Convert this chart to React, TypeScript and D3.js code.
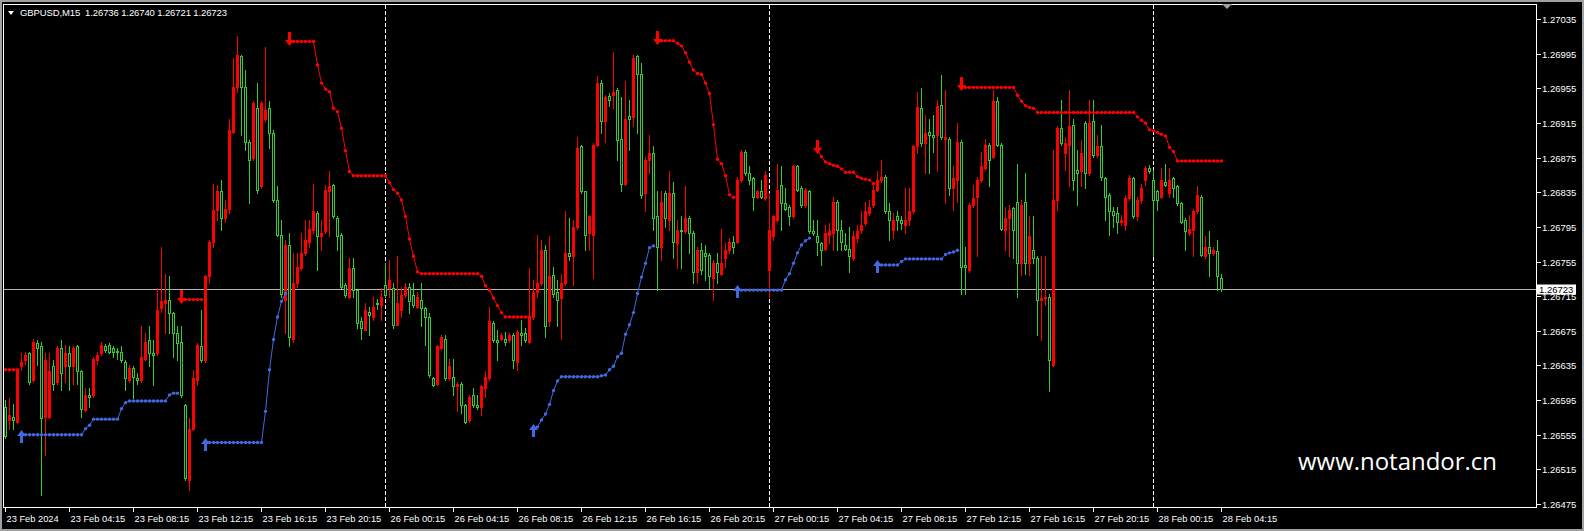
import React from "react";
import * as d3 from "d3";

// ---------- DATA (prices in 1/100000 units, e.g. 26723 = 1.26723) ----------
const openPts = [26587,26572,26576,26570,26634,26641,26649,26618,26661,26657,26576,26576,26634,26616,26655,26634,26649,26634,26657,26628,26584,26601,26601,26641,26649,26657,26659,26655,26652,26651,26639,26618,26632,26621,26618,26643,26664,26649,26649,26701,26707,26711,26695,26672,26662,26589,26503,26562,26618,26657,26641,26738,26778,26815,26836,26805,26816,26905,26957,26992,26957,26893,26874,26932,26842,26919,26932,26903,26826,26786,26711,26774,26666,26730,26747,26765,26778,26791,26811,26784,26790,26836,26843,26805,26786,26728,26714,26747,26722,26686,26676,26697,26691,26707,26705,26728,26724,26724,26682,26699,26716,26726,26716,26703,26711,26701,26691,26620,26614,26655,26666,26620,26622,26611,26614,26589,26572,26601,26589,26587,26609,26620,26684,26664,26666,26666,26664,26670,26639,26672,26672,26662,26691,26720,26730,26768,26686,26739,26720,26713,26730,26765,26761,26795,26888,26836,26788,26786,26890,26961,26917,26946,26947,26953,26897,26845,26923,26922,26992,26972,26834,26872,26880,26807,26772,26834,26803,26834,26776,26791,26790,26805,26788,26743,26768,26765,26763,26736,26753,26741,26759,26768,26778,26778,26849,26882,26857,26851,26830,26836,26828,26745,26784,26803,26843,26822,26818,26807,26865,26840,26820,26836,26790,26784,26776,26770,26786,26788,26824,26791,26774,26770,26759,26782,26791,26799,26811,26820,26838,26849,26853,26813,26791,26807,26803,26797,26803,26813,26888,26932,26892,26905,26901,26901,26936,26897,26897,26840,26849,26893,26751,26745,26820,26830,26849,26863,26890,26876,26940,26890,26791,26805,26817,26824,26753,26824,26753,26768,26759,26711,26713,26714,26636,26826,26909,26880,26890,26913,26861,26859,26915,26857,26917,26878,26888,26851,26832,26813,26811,26801,26797,26828,26851,26807,26826,26849,26863,26849,26836,26830,26847,26834,26851,26842,26822,26803,26788,26791,26813,26830,26761,26772,26765,26767,26736];
const highPts = [26595,26597,26591,26632,26649,26651,26651,26666,26664,26662,26649,26649,26641,26657,26664,26659,26657,26657,26659,26630,26609,26609,26645,26651,26662,26660,26661,26657,26655,26657,26641,26636,26634,26626,26680,26672,26680,26664,26724,26772,26741,26738,26697,26680,26680,26591,26574,26630,26661,26699,26739,26780,26845,26843,26849,26826,26919,26990,27015,26994,26976,26895,26940,26961,26940,27003,26940,26907,26842,26803,26780,26788,26765,26765,26788,26803,26803,26845,26813,26803,26843,26859,26845,26807,26788,26730,26759,26759,26722,26691,26707,26703,26714,26712,26724,26753,26757,26730,26761,26726,26730,26730,26730,26720,26730,26703,26695,26622,26659,26670,26670,26643,26643,26616,26616,26591,26601,26609,26601,26612,26628,26703,26686,26676,26672,26674,26672,26672,26676,26688,26678,26747,26734,26786,26780,26774,26784,26749,26734,26741,26813,26805,26803,26899,26890,26836,26809,26892,26969,26965,26947,26950,26997,26955,26945,26963,26942,26994,26994,26984,26876,26901,26888,26836,26836,26836,26859,26847,26803,26807,26842,26807,26790,26772,26776,26774,26765,26757,26765,26793,26776,26782,26784,26853,26884,26884,26865,26853,26838,26849,26859,26834,26809,26868,26865,26840,26820,26867,26867,26842,26840,26838,26803,26803,26778,26797,26799,26830,26826,26803,26788,26795,26790,26797,26813,26824,26826,26845,26859,26872,26855,26822,26811,26813,26807,26840,26840,26890,26951,26955,26924,26919,26924,26942,26970,26953,26899,26865,26915,26895,26772,26822,26843,26853,26882,26897,26892,26953,26945,26892,26818,26820,26818,26868,26826,26857,26807,26807,26761,26761,26761,26718,26884,26911,26942,26899,26953,26919,26884,26895,26917,26942,26942,26901,26913,26853,26834,26818,26818,26809,26832,26855,26853,26830,26845,26865,26867,26861,26838,26863,26868,26863,26853,26843,26824,26805,26809,26816,26842,26832,26784,26790,26772,26780,26740];
const lowPts = [26551,26562,26562,26568,26630,26637,26614,26616,26636,26485,26532,26574,26607,26614,26607,26616,26607,26614,26614,26576,26582,26587,26599,26637,26647,26651,26649,26645,26643,26639,26607,26616,26597,26614,26616,26641,26634,26612,26647,26697,26672,26672,26645,26641,26599,26503,26491,26560,26612,26639,26639,26730,26772,26803,26791,26801,26811,26903,26951,26901,26884,26822,26872,26834,26840,26917,26886,26824,26784,26714,26672,26657,26662,26726,26745,26763,26772,26788,26745,26768,26788,26784,26805,26768,26724,26714,26713,26714,26678,26666,26676,26670,26688,26700,26688,26714,26714,26678,26682,26691,26714,26695,26703,26701,26680,26659,26622,26611,26612,26653,26618,26618,26601,26582,26580,26568,26570,26587,26585,26578,26599,26618,26662,26641,26664,26659,26662,26632,26630,26659,26662,26661,26689,26714,26728,26668,26680,26714,26680,26666,26728,26757,26728,26793,26834,26768,26768,26736,26888,26903,26893,26935,26932,26872,26836,26843,26884,26911,26903,26828,26813,26857,26791,26722,26757,26795,26791,26759,26747,26747,26788,26765,26730,26730,26741,26734,26724,26711,26730,26739,26749,26765,26765,26776,26847,26855,26845,26815,26828,26828,26826,26714,26780,26801,26791,26815,26797,26805,26836,26818,26818,26788,26786,26763,26751,26768,26776,26768,26768,26768,26768,26743,26757,26778,26788,26797,26809,26818,26836,26847,26811,26780,26782,26791,26793,26788,26797,26811,26880,26888,26857,26857,26882,26859,26897,26822,26832,26815,26824,26718,26718,26743,26818,26761,26847,26861,26842,26874,26888,26791,26768,26761,26759,26714,26739,26741,26739,26753,26670,26664,26705,26605,26634,26815,26890,26861,26842,26838,26820,26842,26840,26855,26876,26876,26849,26803,26786,26795,26788,26797,26791,26826,26805,26803,26822,26843,26857,26761,26815,26828,26842,26830,26830,26820,26799,26768,26786,26761,26811,26761,26759,26738,26763,26722,26721];
const closePts = [26553,26578,26572,26628,26639,26647,26616,26662,26655,26574,26641,26628,26614,26655,26626,26649,26634,26655,26628,26585,26601,26599,26643,26647,26659,26653,26651,26651,26650,26641,26620,26632,26622,26618,26645,26662,26649,26647,26699,26709,26711,26695,26672,26661,26601,26505,26562,26620,26659,26641,26738,26778,26815,26836,26805,26816,26907,26957,26994,26957,26893,26872,26938,26838,26938,26930,26903,26826,26786,26718,26774,26668,26730,26749,26765,26780,26793,26813,26784,26788,26838,26842,26807,26784,26726,26716,26747,26722,26684,26678,26699,26693,26703,26706,26714,26716,26734,26682,26707,26716,26726,26709,26705,26714,26701,26691,26624,26612,26657,26668,26620,26634,26611,26613,26589,26570,26599,26589,26587,26611,26622,26686,26664,26662,26670,26662,26670,26641,26674,26670,26664,26691,26720,26730,26768,26680,26738,26718,26711,26730,26765,26761,26795,26886,26836,26786,26807,26890,26961,26917,26945,26942,26951,26895,26845,26920,26920,26990,26972,26832,26872,26880,26805,26772,26824,26805,26834,26778,26791,26790,26805,26788,26743,26768,26745,26761,26738,26753,26743,26753,26768,26778,26772,26849,26882,26857,26849,26830,26836,26830,26855,26791,26807,26838,26822,26816,26807,26865,26838,26820,26838,26790,26788,26778,26768,26788,26790,26824,26791,26778,26770,26761,26784,26790,26797,26813,26818,26838,26849,26853,26813,26803,26803,26803,26799,26803,26813,26888,26933,26892,26903,26901,26899,26934,26899,26899,26840,26851,26893,26749,26749,26820,26828,26849,26865,26890,26872,26940,26890,26793,26805,26815,26791,26753,26820,26753,26784,26759,26711,26713,26714,26641,26826,26909,26892,26892,26911,26849,26857,26880,26857,26915,26878,26888,26853,26830,26813,26809,26801,26803,26828,26851,26807,26826,26840,26863,26859,26826,26826,26849,26843,26849,26840,26822,26801,26790,26793,26813,26832,26763,26772,26765,26768,26738,26723];

// Trailing-stop indicator segments (start bar index + values)
const redStopStarts = [0, 44, 71, 163, 203, 239];
const redStopValues = [
  [26630,26630,26630,26630],
  [26711,26711,26711,26711,26711,26711],
  [27009,27009,27009,27009,27009,27009,27009,26982,26961,26954,26951,26932,26928,26909,26883,26859,26854,26854,26854,26854,26854,26854,26854,26854,26854,26846,26838,26834,26826,26807,26781,26761,26743,26741,26741,26741,26741,26741,26741,26741,26741,26741,26741,26741,26741,26741,26741,26741,26738,26727,26722,26713,26704,26696,26691,26691,26691,26691,26691,26691,26691],
  [27010,27010,27010,27010,27010,27007,27004,26996,26985,26976,26972,26971,26961,26949,26913,26873,26868,26854,26832,26829],
  [26884,26876,26870,26868,26866,26865,26862,26858,26858,26858,26853,26851,26850,26849,26845],
  [26956,26956,26956,26956,26956,26956,26956,26956,26956,26956,26956,26956,26956,26956,26947,26940,26935,26933,26932,26927,26927,26927,26927,26927,26927,26927,26927,26927,26927,26927,26927,26927,26927,26927,26927,26927,26927,26927,26927,26927,26927,26927,26927,26927,26922,26918,26915,26907,26906,26904,26902,26900,26887,26882,26871,26871,26871,26871,26871,26871,26871,26871,26871,26871,26871,26871],
];
const redArrowSegments = [1, 2, 3, 4, 5];
const blueStopStarts = [4, 50, 132, 183, 218];
const blueStopValues = [
  [26555,26555,26555,26555,26555,26555,26555,26555,26555,26555,26555,26555,26555,26555,26555,26555,26562,26566,26573,26573,26573,26573,26573,26573,26573,26585,26592,26594,26594,26594,26594,26594,26594,26594,26594,26594,26594,26601,26603,26603],
  [26546,26546,26546,26546,26546,26546,26546,26546,26546,26546,26546,26546,26546,26546,26546,26582,26630,26665,26691,26709,26718],
  [26562,26564,26572,26579,26590,26606,26617,26622,26622,26622,26622,26622,26622,26622,26622,26622,26622,26623,26624,26630,26634,26645,26649,26671,26682,26696,26718,26737,26753,26771,26773],
  [26722,26722,26722,26722,26722,26722,26722,26722,26722,26722,26722,26722,26734,26741,26753,26765,26774,26779,26782],
  [26751,26751,26751,26751,26751,26751,26755,26758,26758,26758,26758,26758,26758,26758,26758,26758,26758,26763,26765,26766,26768],
];

const priceTicks = [1.26475,1.26515,1.26555,1.26595,1.26635,1.26675,1.26715,1.26755,1.26795,1.26835,1.26875,1.26915,1.26955,1.26995,1.27035];
const timeLabelBars = [0,16,32,48,64,80,96,112,128,144,160,176,192,208,224,240,256,272,288,304];
const timeLabels = ["23 Feb 2024","23 Feb 04:15","23 Feb 08:15","23 Feb 12:15","23 Feb 16:15","23 Feb 20:15","26 Feb 00:15","26 Feb 04:15","26 Feb 08:15","26 Feb 12:15","26 Feb 16:15","26 Feb 20:15","27 Feb 00:15","27 Feb 04:15","27 Feb 08:15","27 Feb 12:15","27 Feb 16:15","27 Feb 20:15","28 Feb 00:15","28 Feb 04:15"];
const daySeparatorBars = [95, 191, 287];
const symbolTitle = "GBPUSD,M15  1.26736 1.26740 1.26721 1.26723";
const lastPrice = 1.26723;
const watermark = "www.notandor.cn";

// ---------- RENDER ----------
const W = 1584, H = 531;
const P = (v: number) => 1 + v / 100000;
const RED = "#ff0000";
const GREEN = "#32cd32";
const BLUE = "#4169e1";
const FONT = "'Liberation Sans', Arial, sans-serif";

export default function App() {
  const n = closePts.length;
  const x = d3.scaleLinear().domain([0, n - 1]).range([5, 5 + 4 * (n - 1)]);
  const y = d3.scaleLinear().domain([1.26475, 1.27035]).range([504, 19]);
  const py = (v: number) => Math.round(y(P(v)));

  const candles = d3.range(n).map((i) => {
    const o = openPts[i], c = closePts[i], h = highPts[i], l = lowPts[i];
    const cx = Math.round(x(i));
    const bull = c >= o;
    const top = py(Math.max(o, c));
    const bot = py(Math.min(o, c));
    const col = bull ? RED : GREEN;
    return (
      <g key={i}>
        <line x1={cx + 0.5} x2={cx + 0.5} y1={py(h)} y2={py(l) + 1} stroke={col} strokeWidth={1} />
        {bull ? (
          <rect x={cx - 1} y={top} width={3} height={Math.max(1, bot - top + 1)} fill={RED} />
        ) : (
          <rect x={cx - 0.5} y={top + 0.5} width={2} height={Math.max(1, bot - top)} fill="#000" stroke={GREEN} strokeWidth={1} />
        )}
      </g>
    );
  });

  const lineGen = d3.line<[number, number]>().x((d) => d[0]).y((d) => d[1]);

  const renderStops = (starts: number[], values: number[][], color: string, prefix: string) =>
    starts.map((s, k) => {
      const pts: [number, number][] = values[k].map((v, j) => [Math.round(x(s + j)) + 0.5, y(P(v))]);
      return (
        <g key={prefix + k}>
          <path d={lineGen(pts) || ""} fill="none" stroke={color} strokeWidth={1} />
          {pts.map((p, j) => (
            <circle key={j} cx={p[0]} cy={p[1]} r={1.7} fill={color} />
          ))}
        </g>
      );
    });

  const downArrow = (ax: number, ay: number) =>
    `M${ax - 1},${ay - 10} L${ax + 2},${ay - 10} L${ax + 2},${ay - 2} L${ax + 5},${ay - 2} L${ax + 0.5},${ay + 4} L${ax - 4},${ay - 2} L${ax - 1},${ay - 2} Z`;
  const upArrow = (ax: number, ay: number) =>
    `M${ax - 1},${ay + 8} L${ax + 2},${ay + 8} L${ax + 2},${ay + 1} L${ax + 5},${ay + 1} L${ax + 0.5},${ay - 5} L${ax - 4},${ay + 1} L${ax - 1},${ay + 1} Z`;

  const lastY = Math.round(y(lastPrice)) + 0.5;

  return (
    <>
      <style>{"body{margin:0;background:#000}"}</style>
      <svg width={W} height={H} style={{ display: "block", background: "#000" }}>
        <rect x={0} y={0} width={W} height={H} fill="#000" />
        {/* day separators */}
        {daySeparatorBars.map((b) => (
          <line key={b} x1={Math.round(x(b)) + 0.5} x2={Math.round(x(b)) + 0.5} y1={5} y2={507} stroke="#fff" strokeWidth={1} strokeDasharray="4,2" />
        ))}
        {/* current price line */}
        <line x1={4} x2={1536} y1={lastY} y2={lastY} stroke="#b4b4b4" strokeWidth={1} />
        {candles}
        {renderStops(redStopStarts, redStopValues, RED, "r")}
        {renderStops(blueStopStarts, blueStopValues, BLUE, "b")}
        {redArrowSegments.map((k) => (
          <path key={"ra" + k} d={downArrow(Math.round(x(redStopStarts[k])), Math.round(y(P(redStopValues[k][0]))))} fill={RED} />
        ))}
        {blueStopStarts.map((s, k) => (
          <path key={"ba" + k} d={upArrow(Math.round(x(s)), Math.round(y(P(blueStopValues[k][0]))))} fill={BLUE} />
        ))}
        {/* chart frame */}
        <rect x={3.5} y={4.5} width={1533} height={503} fill="none" stroke="#fff" strokeWidth={1} />
        {/* price axis */}
        {priceTicks.map((t) => {
          const ty = Math.round(y(t)) + 0.5;
          return (
            <g key={t}>
              <line x1={1537} x2={1541} y1={ty} y2={ty} stroke="#fff" strokeWidth={1} />
              <text x={1542} y={ty + 3.5} fill="#fff" fontSize={9.5} fontFamily={FONT}>{t.toFixed(5)}</text>
            </g>
          );
        })}
        <rect x={1537} y={lastY - 5} width={39} height={10} fill="#fff" />
        <text x={1539} y={lastY + 3.5} fill="#000" fontSize={9.5} fontFamily={FONT}>{lastPrice.toFixed(5)}</text>
        {/* time axis */}
        {timeLabelBars.map((b, k) => {
          const tx = Math.round(x(b)) + 0.5;
          return (
            <g key={b}>
              <line x1={tx} x2={tx} y1={508} y2={512} stroke="#fff" strokeWidth={1} />
              <text x={tx + 1} y={522} fill="#fff" fontSize={9.3} fontFamily={FONT}>{timeLabels[k]}</text>
            </g>
          );
        })}
        {/* title */}
        <path d="M8,11 L14,11 L11,15 Z" fill="#fff" />
        <text x={20} y={16} fill="#fff" fontSize={9.5} fontFamily={FONT} style={{ whiteSpace: "pre" }} textLength={207} lengthAdjust="spacing">{symbolTitle}</text>
        {/* chart shift marker */}
        <path d="M1222,4 L1232,4 L1227,9 Z" fill="#a0a0a0" />
        {/* watermark */}
        <text x={1298} y={470} fill="#fff" fontSize={24} fontFamily="'Open Sans', 'Noto Sans', sans-serif" textLength={199} lengthAdjust="spacingAndGlyphs">{watermark}</text>
        {/* window border */}
        <rect x={1} y={1} width={W - 2} height={H - 2} fill="none" stroke="#a0a0a0" strokeWidth={2} />
      </svg>
    </>
  );
}
